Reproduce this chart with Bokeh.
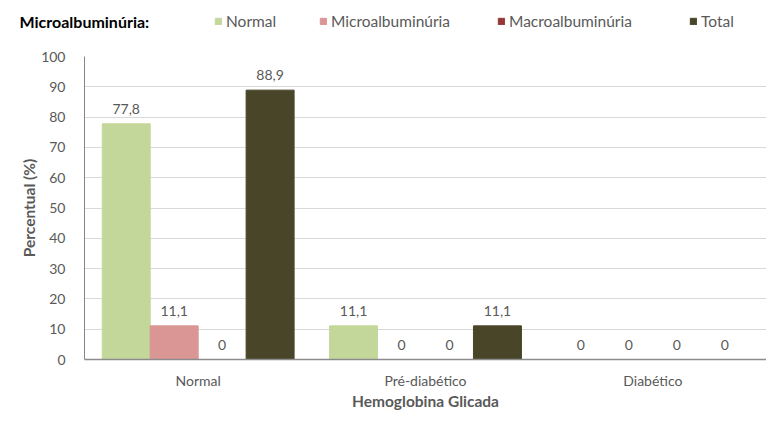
from bokeh.plotting import figure
from bokeh.layouts import column, row
from bokeh.models import ColumnDataSource, FactorRange, Legend, LegendItem, Label, Range1d
from bokeh.transform import dodge
from bokeh.core.properties import value
from bokeh.embed import file_html
from bokeh.resources import INLINE

categories = ["Normal", "Pré-diabético", "Diabético"]
series_names = ["Normal", "Microalbuminúria", "Macroalbuminúria", "Total"]
normal = [77.8, 11.1, 0]
micro = [11.1, 0, 0]
macro = [0, 0, 0]
total = [88.9, 11.1, 0]
y_ticks = [0, 10, 20, 30, 40, 50, 60, 70, 80, 90, 100]
legend_title = "Microalbuminúria:"

colors = ["#C4D79B", "#DA9694", "#953735", "#494529"]
FONT = "Lato"
TXT = "#595959"
W = 765
W1 = 200


def fmt(v):
    if v == 0:
        return "0"
    return f"{v:.1f}".replace(".", ",")


data = {"cat": categories}
keys = ["normal", "micro", "macro", "total"]
for k, vals in zip(keys, [normal, micro, macro, total]):
    data[k] = vals
    data[k + "_lbl"] = [fmt(v) for v in vals]
src = ColumnDataSource(data)


def strip(width):
    f = figure(width=width, height=40, x_range=FactorRange(*categories),
               y_range=Range1d(-1000, -999),
               output_backend="svg", toolbar_location=None, x_axis_type=None, y_axis_type=None,
               min_border=0, min_border_left=0, min_border_right=0,
               min_border_top=0, min_border_bottom=0)
    f.grid.visible = False
    f.outline_line_color = None
    return f


# ---- legend strip on top ----
t1 = strip(W1)
t1.add_layout(Label(x=19, y=19, x_units="screen", y_units="screen", text=legend_title,
                    text_font=FONT, text_font_style="bold", text_font_size="16px",
                    text_color="black", text_baseline="middle"))
t2 = strip(W - W1)
legend_x = [222, 327, 505, 697]
offsets = [-0.3165, -0.1055, 0.1055, 0.3165]
for k, off, name, col, lx in zip(keys, offsets, series_names, colors, legend_x):
    r = t2.vbar(x=dodge("cat", off, range=t2.x_range), top=k, width=0.2, source=src,
                fill_color=col, line_color=col)
    r.visible = False
    lg = Legend(items=[LegendItem(label=name, renderers=[r])], location=(lx - 8 - W1, 10),
                orientation="horizontal",
                label_text_font=FONT, label_text_font_size="15.5px", label_text_color=TXT,
                label_standoff=4, glyph_width=8, glyph_height=8, label_height=18,
                padding=0, margin=0, border_line_color=None, background_fill_alpha=0)
    t2.add_layout(lg, "center")

# ---- main chart ----
p = figure(
    x_range=FactorRange(*categories, range_padding=0),
    y_range=(0, 100),
    width=W, height=380,
    frame_width=682, frame_height=303,
    output_backend="svg", toolbar_location=None,
    min_border_left=84, min_border_right=W - 84 - 682, min_border_top=16, min_border_bottom=61,
)
p.outline_line_color = None
p.background_fill_color = "white"

bw = 0.211
for k, off, col in zip(keys, offsets, colors):
    p.vbar(x=dodge("cat", off, range=p.x_range), top=k, width=bw, source=src,
           fill_color=col, line_color=col)
    p.text(x=dodge("cat", off, range=p.x_range), y=k, text=k + "_lbl", source=src,
           text_align="center", text_baseline="middle", y_offset=-15,
           text_font=value(FONT), text_font_size="14px", text_color=TXT)

p.ygrid.ticker = y_ticks
p.ygrid.grid_line_color = "#d9d9d9"
p.xgrid.grid_line_color = None

p.yaxis.ticker = y_ticks
p.yaxis.axis_line_color = "#868686"
p.yaxis.major_tick_line_color = None
p.yaxis.minor_tick_line_color = None
p.yaxis.major_label_standoff = 13
p.yaxis.major_label_text_font = FONT
p.yaxis.major_label_text_font_size = "14px"
p.yaxis.major_label_text_color = TXT
p.yaxis.axis_label = "Percentual (%)"
p.yaxis.axis_label_text_font = FONT
p.yaxis.axis_label_text_font_size = "15.5px"
p.yaxis.axis_label_text_font_style = "bold"
p.yaxis.axis_label_text_color = TXT
p.yaxis.axis_label_standoff = 0

p.xaxis.axis_line_color = "#8c8c8c"
p.xaxis.axis_line_width = 1.5
p.xaxis.major_tick_line_color = None
p.xaxis.minor_tick_line_color = None
p.xaxis.major_label_standoff = 6
p.xaxis.major_label_text_font = FONT
p.xaxis.major_label_text_font_size = "14px"
p.xaxis.major_label_text_color = TXT
p.xaxis.axis_label = "Hemoglobina Glicada"
p.xaxis.axis_label_text_font = FONT
p.xaxis.axis_label_text_font_size = "15.5px"
p.xaxis.axis_label_text_font_style = "bold"
p.xaxis.axis_label_text_color = TXT
p.xaxis.axis_label_standoff = 0

layout = column(row(t1, t2, spacing=0), p, spacing=0)
open("out.html", "w").write(file_html(layout, INLINE))
